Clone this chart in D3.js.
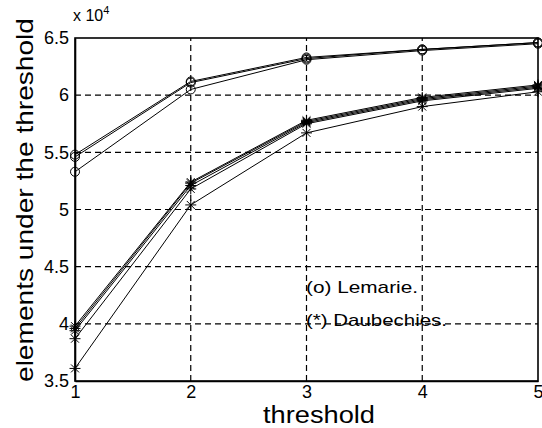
<!DOCTYPE html>
<html>
<head>
<meta charset="utf-8">
<script src="https://cdn.jsdelivr.net/npm/d3@7"></script>
<style>
  body { margin: 0; background: #fff; }
  svg { display: block; font-family: "Liberation Sans", Arial, sans-serif; }
</style>
</head>
<body>
<div id="chart"></div>
<script>
// thresholds on the x axis
const thresholds = [1, 2, 3, 4, 5];

// Lemarie runs (o), values in units of 1e4
const lemarie1 = [5.48, 6.12, 6.33, 6.40, 6.46];
const lemarie2 = [5.46, 6.11, 6.32, 6.40, 6.46];
const lemarie3 = [5.33, 6.05, 6.31, 6.39, 6.45];

// Daubechies runs (*)
const daub1 = [3.98, 5.24, 5.78, 5.98, 6.09];
const daub2 = [3.96, 5.23, 5.77, 5.97, 6.08];
const daub3 = [3.94, 5.21, 5.76, 5.96, 6.07];
const daub4 = [3.87, 5.18, 5.75, 5.95, 6.06];
const daub5 = [3.61, 5.04, 5.67, 5.90, 6.03];

const yTicks = [3.5, 4, 4.5, 5, 5.5, 6, 6.5];
const xTicks = [1, 2, 3, 4, 5];

const width = 542, height = 428;
const margin = { top: 38, right: 4, bottom: 47, left: 75 };

const svg = d3.select("#chart").append("svg")
  .attr("width", width)
  .attr("height", height);

const x = d3.scaleLinear().domain([1, 5]).range([margin.left, width - margin.right]);
const y = d3.scaleLinear().domain([3.5, 6.5]).range([height - margin.bottom, margin.top]);

// dashed grid
svg.append("g")
  .selectAll("line.vgrid")
  .data(xTicks.slice(1, -1))
  .enter().append("line")
  .attr("x1", d => x(d)).attr("x2", d => x(d))
  .attr("y1", y(3.5)).attr("y2", y(6.5))
  .attr("stroke", "#000").attr("stroke-width", 1.2)
  .attr("stroke-dasharray", "6,4");

svg.append("g")
  .selectAll("line.hgrid")
  .data(yTicks.slice(1, -1))
  .enter().append("line")
  .attr("x1", x(1)).attr("x2", x(5))
  .attr("y1", d => y(d)).attr("y2", d => y(d))
  .attr("stroke", "#000").attr("stroke-width", 1.2)
  .attr("stroke-dasharray", "6,4");

// axes
const xAxis = svg.append("g")
  .attr("transform", `translate(0,${y(3.5)})`)
  .call(d3.axisBottom(x).tickValues(xTicks).tickFormat(d3.format("d")).tickSize(0).tickPadding(4));
const yAxis = svg.append("g")
  .attr("transform", `translate(${x(1)},0)`)
  .call(d3.axisLeft(y).tickValues(yTicks).tickFormat(d => d).tickSize(0).tickPadding(6));

[xAxis, yAxis].forEach(a => {
  a.select(".domain").attr("stroke", "#000").attr("stroke-width", 1.6);
  a.selectAll("text").attr("font-size", "18px").attr("fill", "#000")
    .style("font-family", "Liberation Sans, Arial, sans-serif");
});

// box top/right
svg.append("rect")
  .attr("x", x(1)).attr("y", y(6.5))
  .attr("width", x(5) - x(1)).attr("height", y(3.5) - y(6.5))
  .attr("fill", "none").attr("stroke", "#000").attr("stroke-width", 1.6);

// exponent label
const expo = svg.append("text")
  .attr("x", 73).attr("y", 21)
  .attr("font-size", "16px");
expo.append("tspan").text("x 10");
expo.append("tspan").attr("dy", -7).attr("font-size", "11px").text("4");

const line = d3.line().x((d, i) => x(thresholds[i])).y(d => y(d));

const lemSeries = [lemarie1, lemarie2, lemarie3];
const daubSeries = [daub1, daub2, daub3, daub4, daub5];

lemSeries.concat(daubSeries).forEach(s => {
  svg.append("path")
    .datum(s)
    .attr("d", line)
    .attr("fill", "none")
    .attr("stroke", "#000")
    .attr("stroke-width", 1);
});

// circle markers
lemSeries.forEach(s => {
  svg.append("g").selectAll("circle")
    .data(s)
    .enter().append("circle")
    .attr("cx", (d, i) => x(thresholds[i]))
    .attr("cy", d => y(d))
    .attr("r", 4.5)
    .attr("fill", "none")
    .attr("stroke", "#000")
    .attr("stroke-width", 1);
});

// star markers
const r = 5.5, rd = r * 0.72;
const starPath = `M0,${-r}V${r}M${-r},0H${r}M${-rd},${-rd}L${rd},${rd}M${-rd},${rd}L${rd},${-rd}`;
daubSeries.forEach(s => {
  svg.append("g").selectAll("path")
    .data(s)
    .enter().append("path")
    .attr("transform", (d, i) => `translate(${x(thresholds[i])},${y(d)})`)
    .attr("d", starPath)
    .attr("fill", "none")
    .attr("stroke", "#000")
    .attr("stroke-width", 1);
});

// legend text
svg.append("text")
  .attr("x", 306).attr("y", 293)
  .attr("font-size", "17px")
  .attr("textLength", 112).attr("lengthAdjust", "spacingAndGlyphs")
  .text("(o) Lemarie.");
svg.append("text")
  .attr("x", 306).attr("y", 326)
  .attr("font-size", "17px")
  .attr("textLength", 141).attr("lengthAdjust", "spacingAndGlyphs")
  .text("(*) Daubechies.");

// axis titles
svg.append("text")
  .attr("x", 319).attr("y", 423)
  .attr("text-anchor", "middle")
  .attr("font-size", "23px")
  .attr("textLength", 112).attr("lengthAdjust", "spacingAndGlyphs")
  .text("threshold");

svg.append("text")
  .attr("transform", "translate(33,200) rotate(-90)")
  .attr("text-anchor", "middle")
  .attr("font-size", "24px")
  .attr("textLength", 364).attr("lengthAdjust", "spacingAndGlyphs")
  .text("elements under the threshold");
</script>
</body>
</html>
